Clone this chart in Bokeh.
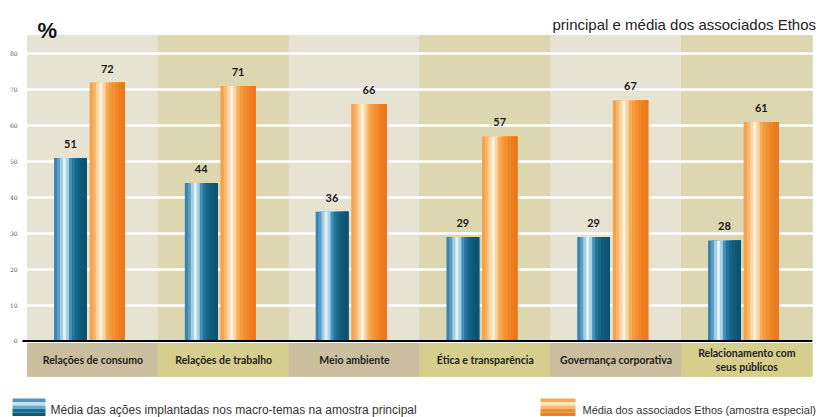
import numpy as np
from bokeh.plotting import figure
from bokeh.models import Range1d, FixedTicker
from bokeh.core.properties import value
from bokeh.embed import file_html
from bokeh.resources import INLINE

# ---- data ----
categories = ["Relações de consumo", "Relações de trabalho", "Meio ambiente",
              "Ética e transparência", "Governança corporativa",
              "Relacionamento com\nseus públicos"]
amostra_principal = [51, 44, 36, 29, 29, 28]
associados_ethos = [72, 71, 66, 57, 67, 61]
y_ticks = [0, 10, 20, 30, 40, 50, 60, 70, 80]
title_text = "%"
note_text = "principal e média dos associados Ethos"
legend_labels = ["Média das ações implantadas nos macro-temas na amostra principal",
                 "Média dos associados Ethos (amostra especial)"]

# ---- styles ----
band_light, band_dark = "#e7e3d3", "#dcd6b1"
box_gray, box_yellow = "#c9bf9f", "#d6ce8d"
blue_cols = ["#3a84ae", "#5c9dc4", "#a3cde2", "#e2f1f8", "#a9d2e5", "#4592b8",
             "#23759c", "#17678a", "#115d7e", "#0e5777", "#0c5372"]
orange_cols = ["#f5a24c", "#f8b66d", "#fcd5a4", "#fff1de", "#fcd29c", "#f8ab58",
               "#f59b3d", "#f39030", "#f08627", "#ed7e20", "#eb781a"]
blue_sw = ["#4f95bd", "#c6e3f0", "#6aa9ca", "#1b6c8f", "#0e5878"]
orange_sw = ["#f7a852", "#fde4c2", "#f9b86f", "#f28d2d", "#ee7c1c"]
lab_font = value("Lato")
txt_font = value("Liberation Sans")

n = len(categories)
idx = np.arange(n)
xs = idx + 0.5

p = figure(width=825, height=417, x_range=Range1d(-0.2064, 6.101), y_range=Range1d(-21.31, 94.85),
           output_backend="svg", toolbar_location=None,
           min_border_left=0, min_border_right=0, min_border_top=0, min_border_bottom=0,
           background_fill_color="white", border_fill_color="white", outline_line_color=None)
p.xaxis.visible = False
p.yaxis.visible = False
p.xgrid.visible = False

band_top = 85.1
# background bands
band_colors = [band_light if i % 2 == 0 else band_dark for i in idx]
p.quad(left=idx, right=idx + 1, bottom=0, top=band_top, color=band_colors, level="image")
box_colors = [box_gray if i % 2 == 0 else box_yellow for i in idx]
p.quad(left=idx, right=idx + 1, bottom=-9.85, top=-0.7, color=box_colors, level="image")

# gridlines (white, behind bars)
p.ygrid.ticker = FixedTicker(ticks=y_ticks[1:])
p.ygrid.grid_line_color = "white"
p.ygrid.grid_line_width = 2.5

# bars as gradient strips (each strip runs to the bar's right edge, so no seams)
def draw_bar(values, center, width, cols):
    k = len(cols)
    sw = width / k
    right = center + width / 2
    for j, c in enumerate(cols):
        left = center - width / 2 + sw * j
        p.vbar(x=xs + (left + right) / 2, top=values, bottom=0, width=right - left,
               color=c, line_color=None)

blue_off, blue_w = -0.172, 0.25
orange_off, orange_w = 0.11, 0.27
draw_bar(amostra_principal, blue_off, blue_w, blue_cols)
draw_bar(associados_ethos, orange_off, orange_w, orange_cols)

# value labels
for vals, off in ((amostra_principal, blue_off), (associados_ethos, orange_off)):
    p.text(x=xs + off, y=vals, text=[str(v) for v in vals], text_align="center",
           text_baseline="bottom", y_offset=-10, text_font=lab_font,
           text_font_style="bold", text_font_size="11px", text_color="#1a1a1a")

# category labels
p.text(x=xs, y=-5.2, text=categories, text_align="center", text_baseline="middle",
       text_font=lab_font, text_font_style="bold", text_font_size="10.5px",
       text_color="#222222", text_line_height=1.15)

# zero line
p.segment(x0=[-0.038], x1=[n], y0=[0], y1=[0], line_color="black", line_width=2)

# y tick labels
p.text(x=[-0.038] * len(y_ticks), y=y_ticks, text=[str(t) for t in y_ticks],
       text_align="right", text_baseline="middle", x_offset=-5,
       text_font=value("DejaVu Serif"), text_font_size="6px", text_color="#555555")

# title and note
p.text(x=[0.0765], y=[86.5], text=[title_text], text_font=txt_font, text_font_style="bold",
       text_font_size="22px", text_color="#111111", text_baseline="alphabetic")
p.text(x=[4.014], y=[88.2], text=[note_text], text_font=txt_font, text_font_size="15px",
       text_color="#222222", text_baseline="alphabetic")

# legend
def swatch(x0, x1, y_top, y_bot, cols):
    k = len(cols)
    h = (y_top - y_bot) / k
    tops = [y_top - h * j for j in range(k)]
    bots = [y_top - h * (j + 1) for j in range(k)]
    p.quad(left=[x0] * k, right=[x1] * k, top=tops, bottom=bots, color=cols, line_color=None)

swatch(-0.1147, 0.1376, -16.0, -20.9, blue_sw)
swatch(3.922, 4.190, -16.0, -20.9, orange_sw)
p.text(x=[0.1758], y=[-19.1], text=[legend_labels[0]], text_font=txt_font,
       text_font_size="12px", text_color="#333333", text_baseline="alphabetic")
p.text(x=[4.243], y=[-19.1], text=[legend_labels[1]], text_font=txt_font,
       text_font_size="11px", text_color="#333333", text_baseline="alphabetic")

open("out.html", "w").write(file_html(p, INLINE))
